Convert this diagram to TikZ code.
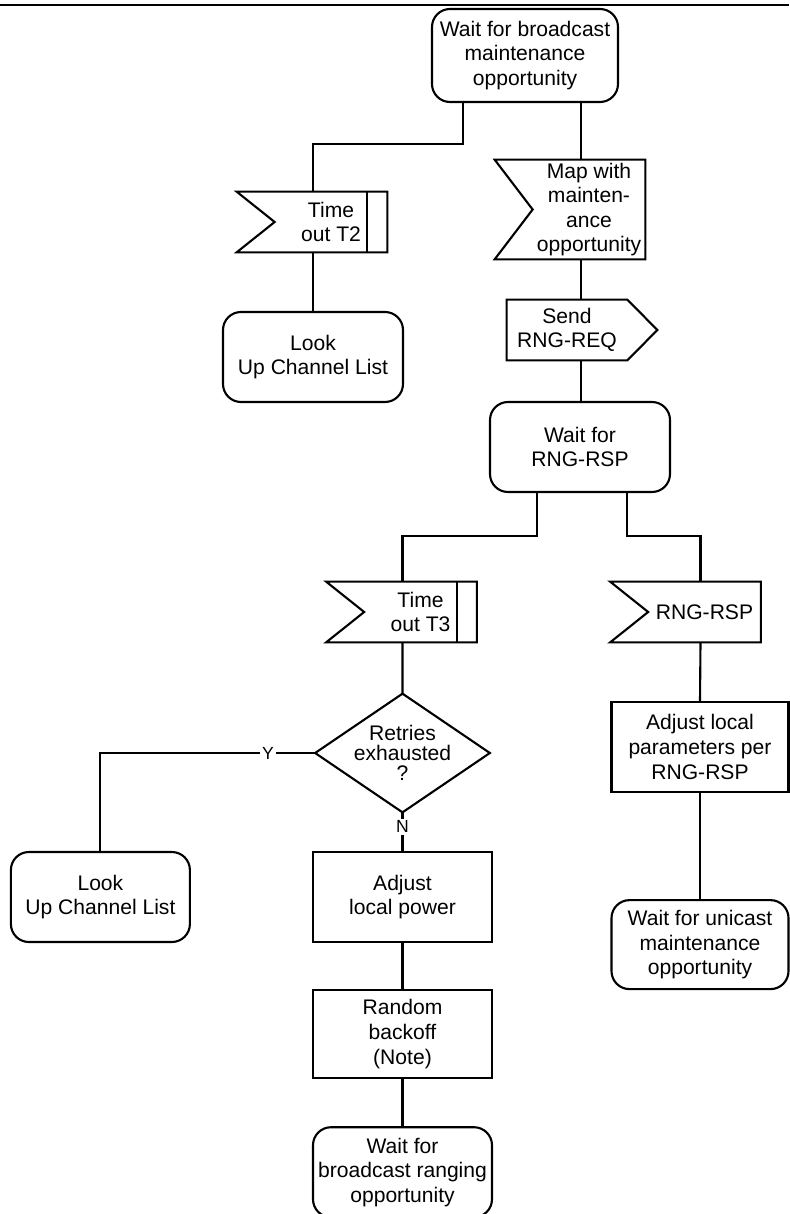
\documentclass[tikz,border=0pt]{standalone}
\usepackage{fontspec}
\setmainfont{Liberation Sans}
\usetikzlibrary{positioning}

\begin{document}
\begin{tikzpicture}[
    node distance=0.9cm,
    every node/.style={font=\fontsize{12}{14}\selectfont},
    link/.style={line width=1.2pt},
    waitst/.style={
        draw,
        line width=1.2pt,
        rounded corners=0.36cm,
        minimum width=3.6cm,
        minimum height=1.8cm,
        align=center,
        inner sep=1pt
    },
    proc/.style={
        draw,
        line width=1.2pt,
        minimum width=3.58cm,
        minimum height=1.8cm,
        align=center,
        inner sep=1pt
    },
    sig/.style={
        minimum width=#1,
        minimum height=1.2cm,
        align=center,
        inner sep=1pt
    },
    sig/.default=2.24cm,
    lbl/.style={fill=white, inner sep=1pt, font=\fontsize{10}{12}\selectfont}
]

\useasboundingbox (0,0) rectangle (15.78,-24.28);
\draw[line width=1.3pt] (0,-0.1) -- (15.78,-0.1);

% TOP
\node[waitst, minimum width=3.72cm, minimum height=1.86cm] (wbm) at (10.50,-1.11)
{Wait for broadcast\\maintenance\\opportunity};

\coordinate (spine) at (11.62,0);

% T2 BRANCH
\node[sig] (t2) at (6.62,-4.44) {Time\\out T2};

\node[waitst] (look1) at (6.26,-7.14) {Look\\Up Channel List};

% MAIN COLUMN
\node[sig, minimum height=1.98cm] (map) at (11.78,-4.19)
{Map with\\mainten-\\ance\\opportunity};

\node[sig=2.4cm] (send) at (11.34,-6.60) {Send\\RNG-REQ};

\node[waitst] (wrsp) at (11.60,-8.94) {Wait for\\RNG-RSP};

% T3 BRANCH
\node[sig] (t3) at (8.41,-12.24) {Time\\out T3};

\node[minimum width=3.48cm, minimum height=2.36cm, align=center,
inner sep=0pt, font=\fontsize{12}{11.4}\selectfont] (dia) at (8.05,-15.06)
{Retries\\exhausted\\?};

\node[proc] (alp) at (8.05,-17.94) {Adjust\\local power};

\node[proc, minimum height=1.76cm, below=0.92cm of alp] (rbo)
{Random\\backoff\\(Note)};

\node[waitst, minimum width=3.58cm, below=0.94cm of rbo] (wbr)
{Wait for\\broadcast ranging\\opportunity};

\node[waitst, minimum width=3.58cm, left=2.42cm of alp] (look2)
{Look\\Up Channel List};

% RSP BRANCH
\node[sig] (rsp) at (14.09,-12.24) {RNG-RSP};

\node[proc, minimum width=3.54cm] (alpar) at (14.00,-14.94)
{Adjust local\\parameters per\\RNG-RSP};

\node[waitst, minimum width=3.54cm, minimum height=1.78cm,
below=2.12cm of alpar] (wum)
{Wait for unicast\\maintenance\\opportunity};

% OUTLINES
\foreach \n in {map,t2,t3,rsp}
  \draw[link] (\n.north east) -- (\n.south east)
  -- ([xshift=-0.76cm]\n.south west) -- (\n.west)
  -- ([xshift=-0.76cm]\n.north west) -- cycle;

\foreach \n in {t2,t3}
  \draw[link] ([xshift=-0.4cm]\n.north east) -- ([xshift=-0.4cm]\n.south east);

\draw[link] (send.north west) -- (send.north east) -- ([xshift=0.6cm]send.east)
-- (send.south east) -- (send.south west) -- cycle;

\draw[link] (dia.north) -- (dia.east) -- (dia.south) -- (dia.west) -- cycle;

% CONNECTIONS
\draw[link] ([xshift=-1.24cm]wbm.south) -- ++(0,-0.82)
-| ([xshift=-0.36cm]t2.north);
\draw[link] ([xshift=-0.36cm]t2.south) -- (look1.north);

\draw[link] (wbm.south -| spine) -- (map.north -| spine);
\draw[link] (map.south -| spine) -- (send.north -| spine);
\draw[link] (send.south -| spine) -- (wrsp.north -| spine);

\draw[link] ([xshift=-0.86cm]wrsp.south) -- ++(0,-0.86)
-| ([xshift=-0.36cm]t3.north);
\draw[link] ([xshift=0.94cm]wrsp.south) -- ++(0,-0.86)
-| ([xshift=-0.08cm]rsp.north);

\draw[link] ([xshift=-0.36cm]t3.south) -- (dia.north);
\draw[link] (dia.west) -| node[lbl, pos=0.11] {Y} (look2.north);
\draw[link] (dia.south) -- node[lbl, pos=0.375] {N} (alp.north);
\draw[link] (alp) -- (rbo);
\draw[link] (rbo) -- (wbr);

\draw[link] ([xshift=-0.08cm]rsp.south) -- (alpar.north);
\draw[link] (alpar) -- (wum);

\end{tikzpicture}
\end{document}
